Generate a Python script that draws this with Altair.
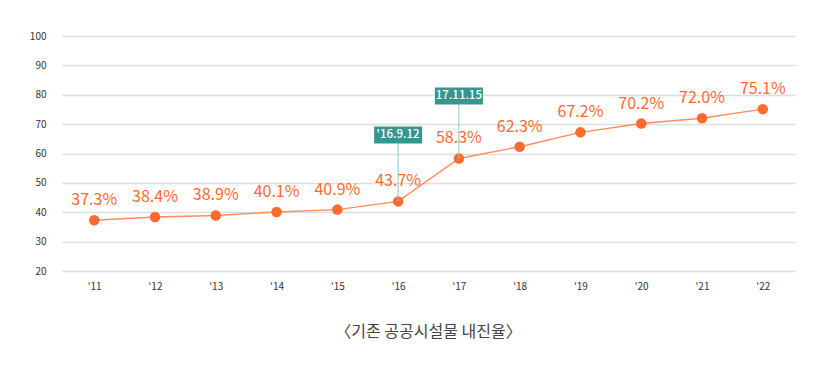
import altair as alt
import pandas as pd

years = ["'11", "'12", "'13", "'14", "'15", "'16", "'17", "'18", "'19", "'20", "'21", "'22"]
rates = [37.3, 38.4, 38.9, 40.1, 40.9, 43.7, 58.3, 62.3, 67.2, 70.2, 72.0, 75.1]
labels = [f"{v:.1f}%" for v in rates]

note_years = ["'16", "'17"]
note_texts = ["'16.9.12", "17.11.15"]
note_levels = [66.3, 79.6]
note_points = [43.7, 58.3]

FONT = "Noto Sans CJK KR"
ORANGE = "#ff6a2f"
TEAL = "#36968f"

df = pd.DataFrame({"year": years, "rate": rates, "label": labels})
notes = pd.DataFrame({"year": note_years, "text": note_texts,
                      "level": note_levels, "point": note_points,
                      "bottom": [v - 2.8 for v in note_levels]})

xaxis = alt.Axis(title=None, labelAngle=0, labelFontSize=10, labelColor="#333",
                 labelFont=FONT, domain=False, ticks=False, labelPadding=10, grid=False)
yaxis = alt.Axis(title=None, values=list(range(20, 101, 10)), labelFontSize=10,
                 labelColor="#333", labelFont=FONT, domain=False, ticks=False,
                 labelPadding=16, gridColor="#dddddd", gridWidth=1.3, labelOverlap=False)
xscale = alt.Scale(type="point", padding=0.53)
yscale = alt.Scale(domain=[20, 100], nice=False, zero=False)


def X(field):
    return alt.X(field, sort=years, scale=xscale, axis=xaxis)


def Y(field):
    return alt.Y(field, scale=yscale, axis=yaxis)


base = alt.Chart(df)
line = base.mark_line(color="#ff8c5e", strokeWidth=1.4).encode(x=X("year:O"), y=Y("rate:Q"))
pts = base.mark_circle(color=ORANGE, size=110, opacity=1).encode(x=X("year:O"), y=Y("rate:Q"))
txt = base.mark_text(color=ORANGE, fontSize=16, font=FONT, baseline="middle", dy=-20).encode(
    x=X("year:O"), y=Y("rate:Q"), text="label:N")

nb = alt.Chart(notes)
rule = nb.mark_rule(color="#8cc8c2", strokeWidth=1).encode(
    x=X("year:O"), y=Y("bottom:Q"), y2="point:Q")
box = nb.mark_rect(color=TEAL, width=48, height=17).encode(
    x=X("year:O"), y=Y("level:Q"))
ntxt = nb.mark_text(color="white", fontSize=11.5, font=FONT, fontWeight=500,
                    baseline="middle").encode(
    x=X("year:O"), y=Y("level:Q"), text="text:N")

chart = alt.layer(line, pts, txt, rule, box, ntxt).properties(
    width=733, height=235,
    autosize=alt.AutoSizeParams(type="none"),
    padding={"left": 54, "top": 28, "right": 30, "bottom": 70},
    title=alt.TitleParams("〈기존 공공시설물 내진율〉", orient="bottom", fontSize=16,
                          font=FONT, fontWeight="normal", color="#444", offset=33,
                          anchor="middle"),
).configure_view(stroke=None)

chart.save("out.html", embed_options={"renderer": "svg", "actions": False})
